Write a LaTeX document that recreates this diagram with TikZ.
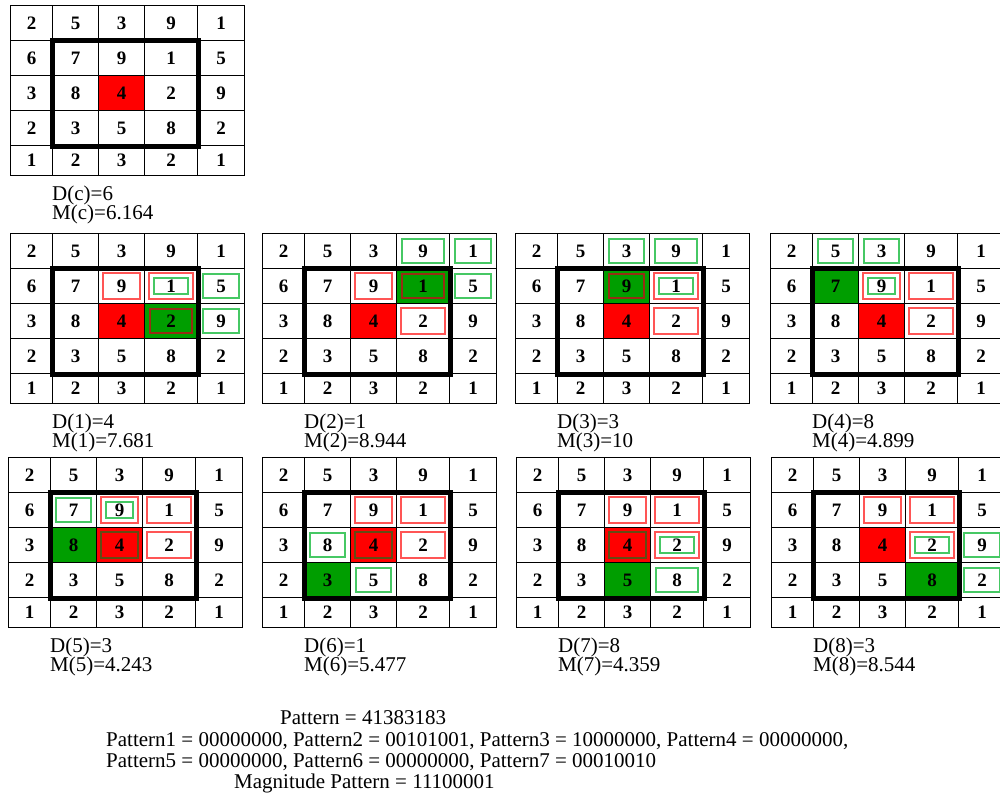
\documentclass[tikz,border=0pt]{standalone}
\usepackage{fontspec}
\setmainfont{Liberation Serif}
\definecolor{cellred}{RGB}{255,0,0}
\definecolor{cellgreen}{RGB}{0,158,0}
\definecolor{boxred}{RGB}{255,85,85}
\definecolor{boxgreen}{RGB}{70,200,100}
\definecolor{boxbrown}{RGB}{150,45,20}
\definecolor{boxolive}{RGB}{100,75,20}

\begin{document}
\begin{tikzpicture}[x=1pt,y=-1pt,
  gridcell/.style={draw,line width=1.1pt,inner sep=0pt,anchor=north west,font=\fontsize{19}{19}\selectfont\bfseries},
  thickbox/.style={line width=5pt},
  lbl/.style={anchor=west,inner sep=0pt,font=\fontsize{21}{24}\selectfont},
  redbox/.style={draw=boxred,line width=1.5pt},
  greenbox/.style={draw=boxgreen,line width=1.3pt},
  greenin/.style={draw=boxgreen,line width=1.3pt},
  brownbox/.style={draw=boxbrown,line width=1.4pt},
  olivebox/.style={draw=boxolive,line width=1.4pt}]
  \clip (0,0) rectangle (1000,795);
  % grids with centre (red) and neighbour (green)
  \foreach \id/\px/\py/\gr/\gc/\dv/\mv in {c/10/5/9/9/6/6.164,1/10/233/2/3/4/7.681,2/262/233/1/3/1/8.944,3/515/233/1/2/3/10,4/770/233/1/1/8/4.899,5/8/457/2/1/3/4.243,6/262/457/3/1/1/5.477,7/516/457/3/2/8/4.359,8/771/457/3/3/3/8.544}{
    \foreach \r in {0,...,4}{
      \foreach \c in {0,...,4}{
        \pgfmathsetmacro\cellx{\px+{0,42,88,134,187,234}[\c]}
        \pgfmathsetmacro\cellw{{42,46,46,53,47}[\c]}
        \pgfmathsetmacro\celly{\py+{0,35,70,105,140}[\r]}
        \pgfmathsetmacro\cellh{{35,35,35,35,30}[\r]}
        \pgfmathtruncatemacro\cellv{{{2,5,3,9,1},{6,7,9,1,5},{3,8,4,2,9},{2,3,5,8,2},{1,2,3,2,1}}[\r][\c]}
        \pgfmathparse{ifthenelse(\r==2 && \c==2,"cellred",ifthenelse(\r==\gr && \c==\gc,"cellgreen","white"))}
        \let\cellfill\pgfmathresult
        \node[gridcell,fill=\cellfill,minimum width=\cellw pt,minimum height=\cellh pt] (g\id-\r\c) at (\cellx,\celly) {\cellv};
      }
    }
    \draw[thickbox] (g\id-11.north west) rectangle (g\id-33.south east);
    \node[lbl] (d\id) at (\px+42,\py+190) {D(\id)=\dv};
    \node[lbl] (m\id) at (\px+42,\py+209) {M(\id)=\mv};
  }
  % outlined cells
  \foreach \id/\boxes in {
      1/{12/redbox/5,13/redbox/5,23/brownbox/6,14/greenbox/6,24/greenbox/6,13/greenin/10},
      2/{12/redbox/5,23/redbox/5,13/brownbox/6,03/greenbox/6,04/greenbox/6,14/greenbox/6},
      3/{13/redbox/5,23/redbox/5,12/brownbox/6,02/greenbox/6,03/greenbox/6,13/greenin/10},
      4/{12/redbox/5,13/redbox/5,23/redbox/5,01/greenbox/6,02/greenbox/6,12/greenin/10},
      5/{12/redbox/5,13/redbox/5,23/redbox/5,11/greenbox/6,12/greenin/10,22/olivebox/5},
      6/{12/redbox/5,13/redbox/5,23/redbox/5,21/greenbox/6,32/greenbox/6,22/olivebox/5},
      7/{12/redbox/5,13/redbox/5,23/redbox/5,33/greenbox/6,23/greenin/10,22/olivebox/5},
      8/{12/redbox/5,13/redbox/5,23/redbox/5,24/greenbox/6,34/greenbox/6,23/greenin/10}}{
    \foreach \cl/\st/\ins in \boxes
      \draw[\st] ([shift={(\ins,\ins)}]g\id-\cl.north west) rectangle ([shift={(-\ins,-\ins)}]g\id-\cl.south east);
  }
  % patterns
  \node[lbl] (pat) at (280,718) {Pattern = 41383183};
  \node[lbl] (subpat1) at (106,741) {Pattern1 = 00000000, Pattern2 = 00101001, Pattern3 = 10000000, Pattern4 = 00000000,};
  \node[lbl] (subpat2) at (106,762) {Pattern5 = 00000000, Pattern6 = 00000000, Pattern7 = 00010010};
  \node[lbl] (magpat) at (234,783) {Magnitude Pattern = 11100001};
\end{tikzpicture}
\end{document}
